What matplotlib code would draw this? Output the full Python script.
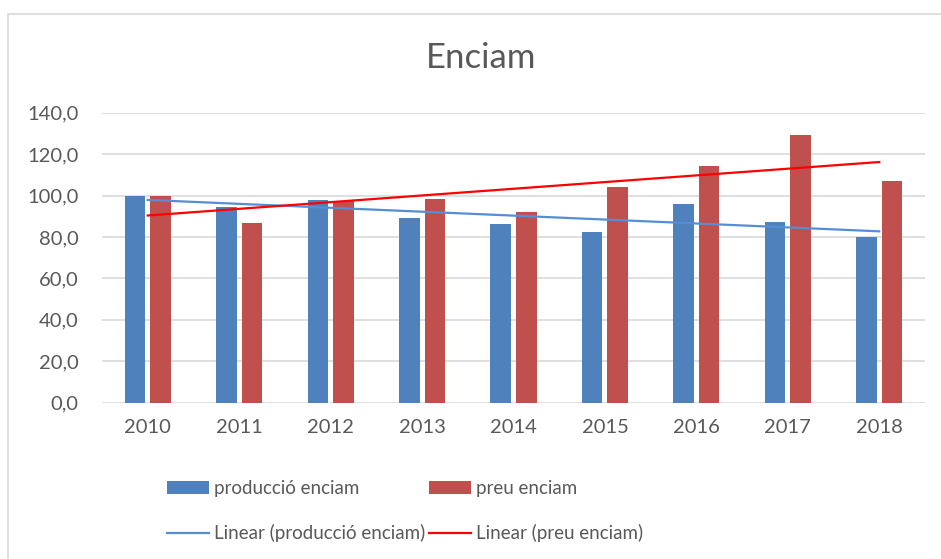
import numpy as np
import matplotlib
matplotlib.use("Agg")
import matplotlib.pyplot as plt
from matplotlib.patches import Rectangle

years = ["2010", "2011", "2012", "2013", "2014", "2015", "2016", "2017", "2018"]
produccio = [100.0, 94.6, 97.9, 89.0, 86.1, 82.4, 95.8, 87.1, 79.9]
preu = [100.0, 86.9, 97.5, 98.4, 92.2, 104.3, 114.1, 129.1, 107.0]
yticks = [0, 20, 40, 60, 80, 100, 120, 140]

plt.rcParams['font.family'] = ['Lato', 'DejaVu Sans']
text_col = '#595959'

fig = plt.figure(figsize=(9.41, 5.59), dpi=100)
ax = fig.add_axes([102 / 941, 1 - 402.7 / 559, 823 / 941, 290 / 559])

# outer chart border
fig.patches.append(Rectangle((7.5 / 941, -0.1), 1.2, 1 - 14 / 559 + 0.1,
                             transform=fig.transFigure, fill=False,
                             edgecolor='#D9D9D9', linewidth=1.2))

x = np.arange(len(years))
w = 0.225
off = 0.14
ax.bar(x - off, produccio, w, color='#4F81BD', label='producció enciam', zorder=2)
ax.bar(x + off, preu, w, color='#C0504D', label='preu enciam', zorder=2)

# linear trendlines
p1 = np.polyfit(x, produccio, 1)
p2 = np.polyfit(x, preu, 1)
ax.plot(x, np.polyval(p1, x), color='#558ED5', linewidth=1.6,
        label='Linear (producció enciam)', zorder=3)
ax.plot(x, np.polyval(p2, x), color='#FF0000', linewidth=1.6,
        label='Linear (preu enciam)', zorder=3)

ax.set_xlim(-0.5, len(years) - 0.5)
ax.set_ylim(0, 140)
ax.set_yticks(yticks)
ax.set_yticklabels([f"{v:.1f}".replace('.', ',') for v in yticks])
ax.set_xticks(x)
ax.set_xticklabels(years)
ax.yaxis.grid(True, color='#D9D9D9', linewidth=1.2, zorder=0)
ax.set_axisbelow(True)
for s in ax.spines.values():
    s.set_visible(False)
ax.tick_params(length=0, labelsize=14.5, colors=text_col)
ax.tick_params(axis='y', pad=17)
ax.tick_params(axis='x', pad=12)

fig.text(481 / 941, 1 - 58 / 559, 'Enciam', ha='center', va='center',
         fontsize=25, color=text_col)

h, l = ax.get_legend_handles_labels()
handles = {lab: hd for hd, lab in zip(h, l)}
labs = ['producció enciam', 'Linear (producció enciam)', 'preu enciam', 'Linear (preu enciam)']
leg = fig.legend([handles[k] for k in labs], labs, ncol=2, loc='upper left',
                 bbox_to_anchor=(167 / 941, 1 - 480 / 559), frameon=False,
                 fontsize=13.5, handlelength=2.25, handleheight=0.75,
                 handletextpad=0.27, columnspacing=0.2, labelspacing=1.45,
                 borderaxespad=0, borderpad=0)
for t in leg.get_texts():
    t.set_color(text_col)

fig.savefig('out.png', dpi=100)
